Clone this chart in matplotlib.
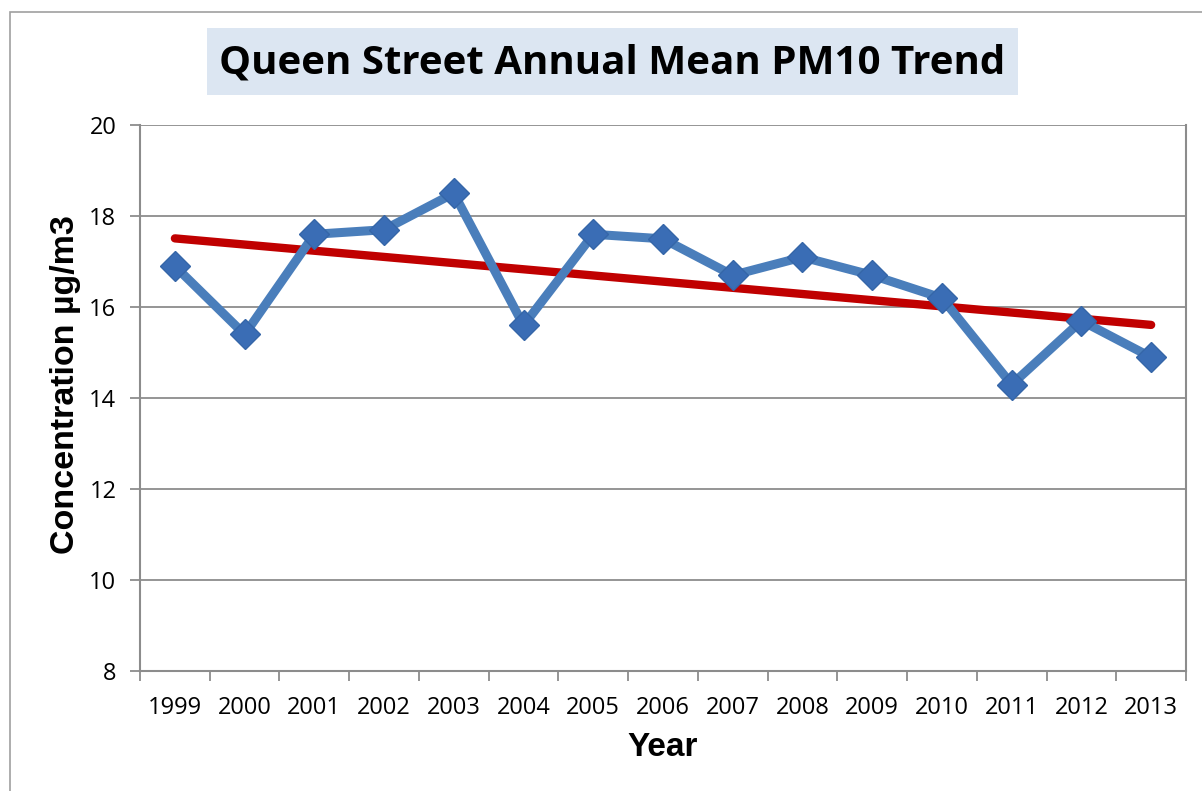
import matplotlib
matplotlib.use("Agg")
import matplotlib.pyplot as plt
import numpy as np
from matplotlib.patches import Rectangle

years = ["1999", "2000", "2001", "2002", "2003", "2004", "2005", "2006",
         "2007", "2008", "2009", "2010", "2011", "2012", "2013"]
pm10 = [16.9, 15.4, 17.6, 17.7, 18.5, 15.6, 17.6, 17.5,
        16.7, 17.1, 16.7, 16.2, 14.3, 15.7, 14.9]

BLUE = "#4A7EBB"
MARK = "#3A6DB5"
RED = "#C00000"
GRID = "#8C8C8C"

fig = plt.figure(figsize=(12.02, 7.91), dpi=100)
ax = fig.add_axes([0.1165, 0.1511, 0.8702, 0.6909])

x = np.arange(len(years))
# linear trend line fitted to the series
k, b = np.polyfit(x, pm10, 1)
ax.plot(x, k * x + b, color=RED, lw=6, solid_capstyle="round", zorder=3)
ax.plot(x, pm10, color=BLUE, lw=6.5, zorder=4, solid_joinstyle="miter")
ax.plot(x, pm10, ls="none", marker="D", ms=15.5, mfc=MARK, mec="#3566A8",
        mew=1, zorder=5)

ax.set_xlim(-0.5, len(years) - 0.5)
ax.set_ylim(8, 20)
ax.set_yticks(range(8, 21, 2))
ax.yaxis.grid(True, color=GRID, lw=1.3)
ax.set_axisbelow(True)

ax.set_xticks(x)
ax.set_xticklabels(years)
ax.set_xticks(np.arange(-0.5, len(years)), minor=True)
ax.tick_params(axis="x", which="major", length=0, pad=18, labelsize=17)
ax.tick_params(axis="x", which="minor", length=7, width=1.3, color=GRID)
ax.tick_params(axis="y", length=7, width=1.3, color=GRID, pad=10, labelsize=17)
for lab in ax.get_xticklabels() + ax.get_yticklabels():
    lab.set_family("Open Sans")

ax.spines["top"].set_visible(False)
for s in ["left", "bottom", "right"]:
    ax.spines[s].set_color(GRID)
    ax.spines[s].set_linewidth(1.5)

ax.set_ylabel("Concentration µg/m3", fontsize=24.5, fontweight="bold",
              family="Liberation Sans")
ax.yaxis.set_label_coords(-0.056, 0.525)
ax.set_xlabel("Year", fontsize=24, fontweight="bold",
              family="Liberation Sans", labelpad=8)

# title box
fig.patches.append(Rectangle((207 / 1202, 1 - 95 / 791), 811 / 1202, 67 / 791,
                             transform=fig.transFigure, fc="#DCE6F2", ec="none"))
fig.text(612 / 1202, 1 - 63 / 791, "Queen Street Annual Mean PM10 Trend",
         ha="center", va="center", fontsize=29, fontweight="bold",
         family="Open Sans")

# outer chart border
fig.patches.append(Rectangle((10 / 1202, -0.1), 1.2, 1 - 12 / 791 + 0.1,
                             transform=fig.transFigure, fc="none",
                             ec="#A0A0A0", lw=1.2))

fig.savefig("out.png", dpi=100, facecolor="white")
